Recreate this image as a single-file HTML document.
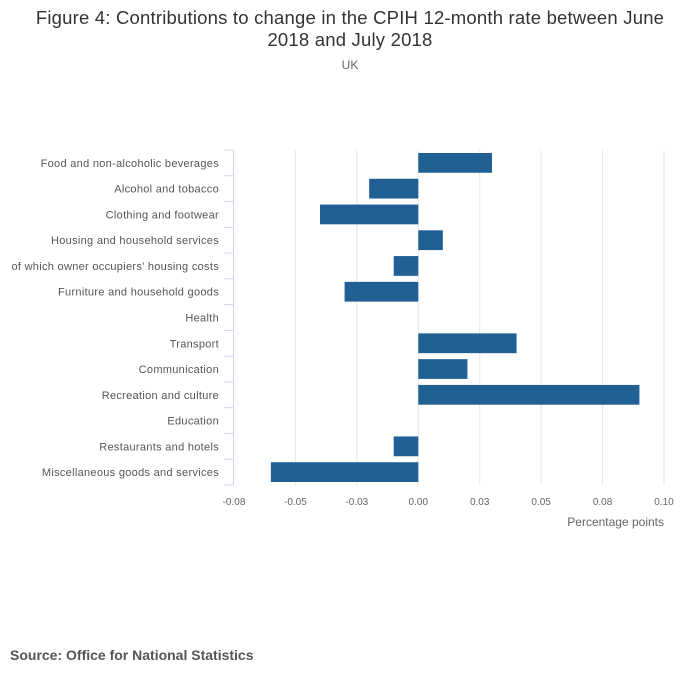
<!DOCTYPE html>
<html><head><meta charset="utf-8"><style>
body{margin:0;background:#fff;width:700px;height:682px;overflow:hidden;font-family:"Liberation Sans",sans-serif;}
</style></head><body>
<svg width="700" height="682" xmlns="http://www.w3.org/2000/svg">
<text x="350" y="24" text-anchor="middle" font-size="18.5" letter-spacing="0.2" fill="#333">Figure 4: Contributions to change in the CPIH 12-month rate between June</text>
<text x="350" y="46" text-anchor="middle" font-size="18.5" letter-spacing="0.2" fill="#333">2018 and July 2018</text>
<text x="350" y="69" text-anchor="middle" font-size="12" fill="#666">UK</text>
<g id="grid"></g><g id="bars"></g><g id="yaxis"></g><g id="xaxis"></g>
<text x="664" y="526" text-anchor="end" font-size="12" fill="#666">Percentage points</text>
<text x="10" y="660" font-size="14" font-weight="bold" fill="#555">Source: Office for National Statistics</text>
</svg>
<script>
const categories=["Food and non-alcoholic beverages","Alcohol and tobacco","Clothing and footwear","Housing and household services","of which owner occupiers’ housing costs","Furniture and household goods","Health","Transport","Communication","Recreation and culture","Education","Restaurants and hotels","Miscellaneous goods and services"];
const values=[0.030,-0.020,-0.040,0.010,-0.010,-0.030,0,0.040,0.020,0.090,0,-0.010,-0.060];
const tickValues=[-0.075,-0.05,-0.025,0,0.025,0.05,0.075,0.1];
const tickLabels=["-0.08","-0.05","-0.03","0.00","0.03","0.05","0.08","0.10"];
const NS="http://www.w3.org/2000/svg";
const x0=234,x1=664,vmin=-0.075,vmax=0.1,plotTop=150,plotBottom=485;
const xs=v=>x0+(v-vmin)/(vmax-vmin)*(x1-x0);
const band=(plotBottom-plotTop)/categories.length;
const yb=i=>plotTop+i*band;
function mk(tag,attrs,parent){const e=document.createElementNS(NS,tag);for(const k in attrs)e.setAttribute(k,attrs[k]);document.getElementById(parent).appendChild(e);return e;}
tickValues.forEach((v,i)=>{
  if(i>0){const g=mk('line',{x1:xs(v),x2:xs(v),y1:plotTop,y2:plotBottom,stroke:'#e6e6e6','stroke-width':1},'grid');
  
  }
  const t=mk('text',{x:xs(v),y:505,'text-anchor':'middle','font-size':10,fill:'#666'},'xaxis');
  t.textContent=tickLabels[i];
  
  
});
const ax=mk('line',{x1:233.5,x2:233.5,y1:plotTop,y2:plotBottom,stroke:'#ccd6eb','stroke-width':1},'yaxis');


for(let i=0;i<=categories.length;i++){
  const tk=mk('line',{x1:224,x2:233,y1:yb(i),y2:yb(i),stroke:'#ccd6eb','stroke-width':1},'yaxis');
  
  
}
categories.forEach((c,i)=>{
  const t=mk('text',{x:219,y:yb(i)+band/2+4,'text-anchor':'end','font-size':11,'letter-spacing':0.3,fill:'#555'},'yaxis');
  t.textContent=c;
  
  
  const v=values[i];
  if(v!==0){
    const a=xs(Math.min(0,v)),b=xs(Math.max(0,v));
    const r=mk('rect',{x:a,y:yb(i)+3,width:b-a,height:band-6,fill:'#206095'},'bars');
    
    
  }
});
</script>
</body></html>
